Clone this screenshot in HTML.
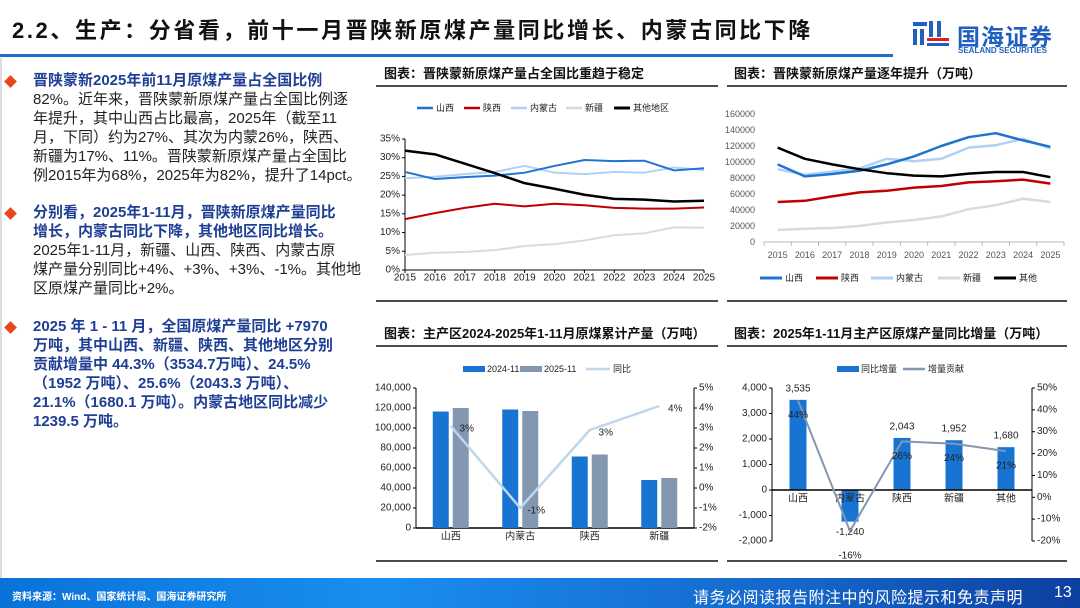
<!DOCTYPE html>
<html><head><meta charset="utf-8">
<style>
*{margin:0;padding:0;box-sizing:border-box}
body{width:1080px;height:608px;overflow:hidden;background:#fff;font-family:"Liberation Sans","Noto Sans CJK SC",sans-serif;position:relative}
.abs{position:absolute;white-space:nowrap}
.para{position:absolute;left:33px;font-size:15px;line-height:19px;color:#222;white-space:nowrap}
.para b{color:#1f3f95}
.dia{position:absolute;left:6px;width:9px;height:9px;background:#e8471c;transform:rotate(45deg)}
.ctitle{position:absolute;font-size:13px;font-weight:bold;color:#111;white-space:nowrap}
</style></head><body>
<div class="abs" style="left:0;top:58px;width:2px;height:520px;background:#ddd"></div>
<div class="abs" style="left:12px;top:13px;font-size:22px;font-weight:bold;color:#111;letter-spacing:2.6px">2.2、生产：分省看，前十一月晋陕新原煤产量同比增长、内蒙古同比下降</div>
<div class="abs" style="left:0;top:54px;width:893px;height:3px;background:#1f6fd0"></div>
<svg class="abs" style="left:913px;top:21px" width="36" height="26" viewBox="0 0 36 26">
<rect x="0" y="1" width="14" height="4" fill="#1f5fbf"/><rect x="0" y="8" width="4" height="16" fill="#1f5fbf"/><rect x="7" y="8" width="4" height="16" fill="#1f5fbf"/>
<rect x="16" y="0" width="4" height="16" fill="#1f5fbf"/><rect x="24" y="0" width="4" height="16" fill="#1f5fbf"/>
<rect x="14" y="17" width="22" height="3" fill="#d22"/><rect x="14" y="22" width="22" height="3" fill="#1f5fbf"/></svg>
<div class="abs" style="left:957px;top:18px;font-size:23px;font-weight:bold;color:#1f5fbf;letter-spacing:1px">国海证券</div>
<div class="abs" style="left:958px;top:46px;font-size:8px;font-weight:bold;color:#1f5fbf">SEALAND SECURITIES</div>

<div class="dia" style="top:77px"></div>
<div class="para" style="top:71px"><b>晋陕蒙新2025年前11月原煤产量占全国比例</b><br>82%。近年来，晋陕蒙新原煤产量占全国比例逐<br>年提升，其中山西占比最高，2025年（截至11<br>月，下同）约为27%、其次为内蒙26%，陕西、<br>新疆为17%、11%。晋陕蒙新原煤产量占全国比<br>例2015年为68%，2025年为82%，提升了14pct。</div>
<div class="dia" style="top:209px"></div>
<div class="para" style="top:203px"><b>分别看，2025年1-11月，晋陕新原煤产量同比<br>增长，内蒙古同比下降，其他地区同比增长。</b><br>2025年1-11月，新疆、山西、陕西、内蒙古原<br>煤产量分别同比+4%、+3%、+3%、-1%。其他地<br>区原煤产量同比+2%。</div>
<div class="dia" style="top:323px"></div>
<div class="para" style="top:317px"><b>2025 年 1 - 11 月，全国原煤产量同比 +7970<br>万吨，其中山西、新疆、陕西、其他地区分别<br>贡献增量中 44.3%（3534.7万吨）、24.5%<br>（1952 万吨）、25.6%（2043.3 万吨）、<br>21.1%（1680.1 万吨）。内蒙古地区同比减少<br>1239.5 万吨。</b></div>

<div class="ctitle" style="left:384px;top:63px">图表：晋陕蒙新原煤产量占全国比重趋于稳定</div>
<div class="ctitle" style="left:734px;top:63px">图表：晋陕蒙新原煤产量逐年提升（万吨）</div>
<div class="ctitle" style="left:384px;top:323px">图表：主产区2024-2025年1-11月原煤累计产量（万吨）</div>
<div class="ctitle" style="left:734px;top:323px">图表：2025年1-11月主产区原煤产量同比增量（万吨）</div>

<svg id="charts" class="abs" style="left:0;top:0" width="1080" height="608"></svg>

<div class="abs" style="left:0;top:578px;width:1080px;height:30px;background:linear-gradient(90deg,#0a72d8 0%,#1a8ef0 35%,#1565c8 75%,#0d3fa0 100%)"></div>
<div class="abs" style="left:12px;top:588px;font-size:10px;font-weight:bold;color:#fff">资料来源：Wind、国家统计局、国海证券研究所</div>
<div class="abs" style="left:693px;top:584px;font-size:16px;color:#fff;letter-spacing:0.5px">请务必阅读报告附注中的风险提示和免责声明</div>
<div class="abs" style="left:1054px;top:584px;font-size:16px;color:#fff">13</div>

<script>
const years=['2015','2016','2017','2018','2019','2020','2021','2022','2023','2024','2025'];
const shareSX=[26.2,24.3,24.8,25.2,26,27.8,29.4,29.1,29.2,26.6,27.2];
const shareSHX=[13.6,15.2,16.6,17.7,17,17.7,17.3,16.6,16.4,16.4,16.7];
const shareNMG=[24.5,24.9,25.6,26.2,27.8,26,25.6,26.2,26,27.4,26.7];
const shareXJ=[4,4.6,4.8,5.3,6.4,6.9,7.9,9.3,9.8,11.4,11.3];
const shareOT=[31.9,30.9,28.4,25.9,23.2,21.7,20.1,19,18.8,18.3,18.5];
const shareTicks=[0,5,10,15,20,25,30,35];
const prodSX=[97000,82000,85000,89000,97000,107000,120000,131000,136000,127000,119000];
const prodSHX=[50000,51500,57000,62000,64000,68000,70000,74500,76000,78000,73000];
const prodNMG=[91000,84000,88000,92000,104000,101000,104000,118000,121000,129000,117000];
const prodXJ=[15000,16500,17500,20000,24500,27500,32000,41000,46000,54000,50000];
const prodOT=[118000,104000,97000,91000,86000,83000,82000,85500,87500,87500,81000];
const prodTicks=[0,20000,40000,60000,80000,100000,120000,140000,160000];
const regions3=['山西','内蒙古','陕西','新疆'];
const cum2024=[116500,118500,71500,48000];
const cum2025=[120000,117000,73500,50000];
const yoy=[3.1,-1.0,2.9,4.1];
const yoyLabels=['3%','-1%','3%','4%'];
const cumTicks=[0,20000,40000,60000,80000,100000,120000,140000];
const yoyTicks=[-2,-1,0,1,2,3,4,5];
const regions4=['山西','内蒙古','陕西','新疆','其他'];
const incr=[3535,-1240,2043,1952,1680];
const incrLabels=['3,535','-1,240','2,043','1,952','1,680'];
const contrib=[44.3,-15.5,25.6,24.5,21.1];
const contribLabels=['44%','-16%','26%','24%','21%'];
const incrTicks=[-2000,-1000,0,1000,2000,3000,4000];
const contribTicks=[-20,-10,0,10,20,30,40,50];

const svg=document.getElementById('charts');const NS='http://www.w3.org/2000/svg';
function el(tag,attrs,name,text){const e=document.createElementNS(NS,tag);for(const k in attrs)e.setAttribute(k,attrs[k]);


if(text!==undefined)e.textContent=text;svg.appendChild(e);return e;}
function txt(x,y,s,name,size,anchor,extra){return el('text',Object.assign({x:x,y:y,'font-size':size||9,'text-anchor':anchor||'middle','dominant-baseline':'central',fill:'#222','font-family':'Liberation Sans, Noto Sans CJK SC, sans-serif'},extra||{}),name,s);}
function fmt(v){return v.toLocaleString('en-US');}
function poly(xs,ys,color,w,name){el('polyline',{points:xs.map((x,i)=>x+','+ys[i]).join(' '),fill:'none',stroke:color,'stroke-width':w,'stroke-linejoin':'round'},name);}
function legendLine(x,y,c,w,label,name,len){el('line',{x1:x,y1:y,x2:x+(len||22),y2:y,stroke:c,'stroke-width':w},name+'-swatch');txt(x+(len||22)+3,y,label,name,9,'start');}
[[376,718,86],[727,1067,86],[376,718,346],[727,1067,346],[376,718,301],[727,1067,301],[376,718,561],[727,1067,561]].forEach((r,i)=>el('line',{x1:r[0],y1:r[2],x2:r[1],y2:r[2],stroke:'#111','stroke-width':1.5},'rule-'+i));

const colors=['#1f74d0','#c00000','#aed1f5','#dadada','#000'];
(function(){const x0=405,x1=704,yT=139,yB=270,max=35;
const X=i=>x0+(x1-x0)*i/(years.length-1),Y=v=>yB-(yB-yT)*v/max;
el('line',{x1:x0,y1:yT,x2:x0,y2:yB,stroke:'#000'},'chart1-y-axis');
el('line',{x1:x0,y1:yB,x2:x1,y2:yB,stroke:'#000'},'chart1-x-axis');
shareTicks.forEach(t=>{el('line',{x1:x0-3,y1:Y(t),x2:x0,y2:Y(t),stroke:'#000'},'chart1-ytick');txt(x0-5,Y(t),t+'%','chart1-ytick-label',10,'end');});
years.forEach((y,i)=>{el('line',{x1:X(i),y1:yB,x2:X(i),y2:yB+3,stroke:'#000'},'chart1-xtick');txt(X(i),yB+8,y,'chart1-xtick-label',10);});
const ser=[shareSX,shareSHX,shareNMG,shareXJ,shareOT],names=['山西','陕西','内蒙古','新疆','其他地区'];
[3,2,1,0,4].forEach(k=>poly(years.map((_,i)=>X(i)),ser[k].map(Y),colors[k],k==4?2.5:2,'chart1-line-'+k));
const lx=[417,464,511,566,614];names.forEach((n,k)=>legendLine(lx[k],108,colors[k],k==4?3:2.5,n,'chart1-legend-'+k,16));})();
(function(){const xa=764,xb=1064,yT=114,yB=242,max=160000,n=years.length,bw=(xb-xa)/n;
const X=i=>xa+bw*(i+0.5),Y=v=>yB-(yB-yT)*v/max;
el('line',{x1:xa,y1:yB,x2:xb,y2:yB,stroke:'#bbb'},'chart2-x-axis');
for(let i=0;i<=n;i++)el('line',{x1:xa+bw*i,y1:yB,x2:xa+bw*i,y2:yB+4,stroke:'#bbb'},'chart2-xtick');
prodTicks.forEach(t=>txt(755,Y(t),t,'chart2-ytick-label',9,'end',{fill:'#555'}));
years.forEach((y,i)=>txt(X(i),255,y,'chart2-xtick-label',9,'middle',{fill:'#555'}));
const ser=[prodSX,prodSHX,prodNMG,prodXJ,prodOT],names=['山西','陕西','内蒙古','新疆','其他'];
[3,2,1,0,4].forEach(k=>poly(years.map((_,i)=>X(i)),ser[k].map(Y),colors[k],2.5,'chart2-line-'+k));
const lx=[760,816,871,938,994];names.forEach((n,k)=>legendLine(lx[k],278,colors[k],3,n,'chart2-legend-'+k,22));})();
(function(){const xa=416,xb=694,yT=388,yB=528,n=regions3.length,bw=(xb-xa)/n;
const C=i=>xa+bw*(i+0.5),Y=v=>yB-(yB-yT)*v/140000,Y2=v=>yB-(yB-yT)*(v+2)/7;
el('line',{x1:xa,y1:yT,x2:xa,y2:yB,stroke:'#000'},'chart3-y-axis');
el('line',{x1:xb,y1:yT,x2:xb,y2:yB,stroke:'#000'},'chart3-y2-axis');
el('line',{x1:xa,y1:yB,x2:xb,y2:yB,stroke:'#000','stroke-width':1.5},'chart3-x-axis');
cumTicks.forEach(t=>{el('line',{x1:xa-3,y1:Y(t),x2:xa,y2:Y(t),stroke:'#000'},'chart3-ytick');txt(xa-5,Y(t),fmt(t),'chart3-ytick-label',10,'end');});
yoyTicks.forEach(t=>{el('line',{x1:xb,y1:Y2(t),x2:xb+3,y2:Y2(t),stroke:'#000'},'chart3-y2tick');txt(xb+5,Y2(t),t+'%','chart3-y2tick-label',10,'start');});
regions3.forEach((r,i)=>{el('rect',{x:C(i)-18,y:Y(cum2024[i]),width:16,height:yB-Y(cum2024[i]),fill:'#1874d2'},'chart3-bar-2024');
el('rect',{x:C(i)+2,y:Y(cum2025[i]),width:16,height:yB-Y(cum2025[i]),fill:'#8497b0'},'chart3-bar-2025');
txt(C(i),537,r,'chart3-xtick-label',10);});
poly(regions3.map((_,i)=>C(i)),yoy.map(Y2),'#bdd7ee',2.5,'chart3-yoy-line');
regions3.forEach((r,i)=>txt(C(i)+16,Y2(yoy[i])+3,yoyLabels[i],'chart3-yoy-label',10));
el('rect',{x:463,y:366,width:22,height:6,fill:'#1874d2'},'chart3-legend-2024-swatch');txt(487,369,'2024-11','chart3-legend-2024',9,'start');
el('rect',{x:520,y:366,width:22,height:6,fill:'#8497b0'},'chart3-legend-2025-swatch');txt(544,369,'2025-11','chart3-legend-2025',9,'start');
legendLine(586,369,'#bdd7ee',2.5,'同比','chart3-legend-yoy',24);})();
(function(){const xa=772,xb=1032,yT=388,yB=541,n=regions4.length,bw=(xb-xa)/n;
const C=i=>xa+bw*(i+0.5),Y=v=>yB-(yB-yT)*(v+2000)/6000,Y2=v=>yB-(yB-yT)*(v+20)/70;
el('line',{x1:xa,y1:yT,x2:xa,y2:yB,stroke:'#000'},'chart4-y-axis');
el('line',{x1:xb,y1:yT,x2:xb,y2:yB,stroke:'#000'},'chart4-y2-axis');
incrTicks.forEach(t=>{el('line',{x1:xa-3,y1:Y(t),x2:xa,y2:Y(t),stroke:'#000'},'chart4-ytick');txt(xa-5,Y(t),fmt(t),'chart4-ytick-label',10,'end');});
contribTicks.forEach(t=>{el('line',{x1:xb,y1:Y2(t),x2:xb+3,y2:Y2(t),stroke:'#000'},'chart4-y2tick');txt(xb+5,Y2(t),t+'%','chart4-y2tick-label',10,'start');});
regions4.forEach((r,i)=>{const v=incr[i],top=Math.min(Y(v),Y(0));el('rect',{x:C(i)-8.5,y:top,width:17,height:Math.abs(Y(v)-Y(0)),fill:'#1874d2'},'chart4-bar');
txt(C(i),v>=0?Y(v)-11:Y(v)+11,incrLabels[i],'chart4-value-label',10);});
el('line',{x1:xa,y1:Y(0),x2:xb,y2:Y(0),stroke:'#000','stroke-width':1.5},'chart4-zero-axis');
regions4.forEach((r,i)=>txt(C(i),Y(0)+9,r,'chart4-xtick-label',10));
poly(regions4.map((_,i)=>C(i)),contrib.map(Y2),'#8497b0',2,'chart4-contrib-line');
regions4.forEach((r,i)=>{if(i==1)txt(C(i),556,contribLabels[i],'chart4-contrib-label',10);else txt(C(i),Y2(contrib[i])+15,contribLabels[i],'chart4-contrib-label',10);});
el('rect',{x:837,y:366,width:22,height:6,fill:'#1874d2'},'chart4-legend-incr-swatch');txt(861,369,'同比增量','chart4-legend-incr',9,'start');
legendLine(903,369,'#8497b0',2.5,'增量贡献','chart4-legend-contrib',22);})();
</script>
</body></html>
